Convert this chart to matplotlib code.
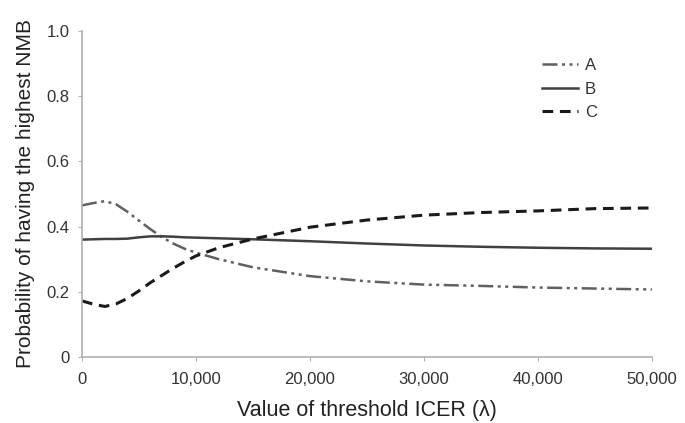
import matplotlib
matplotlib.use("Agg")
import matplotlib.pyplot as plt
from matplotlib.ticker import FuncFormatter

plt.rcParams['font.family'] = ['Liberation Sans', 'DejaVu Sans']

x = [0, 1000, 2000, 3000, 4000, 5000, 6000, 7000, 8000, 9000, 10000, 12000, 15000,
     20000, 25000, 30000, 35000, 40000, 45000, 50000]
A = [0.465, 0.472, 0.478, 0.468, 0.445, 0.418, 0.392, 0.368, 0.348, 0.332, 0.32, 0.30, 0.275,
     0.248, 0.232, 0.222, 0.218, 0.213, 0.21, 0.207]
B = [0.36, 0.361, 0.362, 0.362, 0.363, 0.367, 0.37, 0.37, 0.369, 0.367, 0.366, 0.364, 0.361,
     0.355, 0.348, 0.342, 0.338, 0.335, 0.333, 0.332]
C = [0.172, 0.162, 0.155, 0.163, 0.18, 0.203, 0.228, 0.25, 0.272, 0.292, 0.31, 0.335, 0.362,
     0.398, 0.42, 0.435, 0.443, 0.448, 0.455, 0.457]
xticks = [0, 10000, 20000, 30000, 40000, 50000]
yticks = [0, 0.2, 0.4, 0.6, 0.8, 1.0]

fig = plt.figure(figsize=(6.85, 4.23), dpi=100)
ax = fig.add_axes([0.1197, 0.156, 0.832, 0.771])

ax.plot(x, A, color='#606060', lw=1.8, dashes=(6, 1.8, 1.2, 1.8, 1.2, 1.8), label='A')
ax.plot(x, B, color='#404040', lw=1.8, label='B')
ax.plot(x, C, color='#1a1a1a', lw=2.2, dashes=(3.5, 2.2), label='C')

ax.set_xlim(0, 50000)
ax.set_ylim(0, 1.0)
ax.set_xticks(xticks)
ax.set_yticks(yticks)
ax.xaxis.set_major_formatter(FuncFormatter(lambda v, p: f"{int(v):,}"))
ax.yaxis.set_major_formatter(FuncFormatter(lambda v, p: "0" if v == 0 else f"{v:.1f}"))

for s in ['top', 'right']:
    ax.spines[s].set_visible(False)
for s in ['left', 'bottom']:
    ax.spines[s].set_color('#b0b0b0')
    ax.spines[s].set_linewidth(1.2)
ax.tick_params(axis='both', direction='out', length=3, color='#b0b0b0', labelsize=12, labelcolor='#333333')
ax.tick_params(axis='x', pad=8)
ax.tick_params(axis='y', pad=6)

ax.set_xlabel('Value of threshold ICER (λ)', fontsize=15.5, color='#222222', labelpad=9)
ax.set_ylabel('Probability of having the highest NMB', fontsize=15, color='#222222', labelpad=8)

leg = ax.legend(loc='upper left', bbox_to_anchor=(0.78, 0.962), frameon=False, fontsize=12,
                handlelength=2.2, handletextpad=0.4, labelspacing=0.5)
for t in leg.get_texts():
    t.set_color('#333333')

fig.savefig('out.png', dpi=100, facecolor='white')
